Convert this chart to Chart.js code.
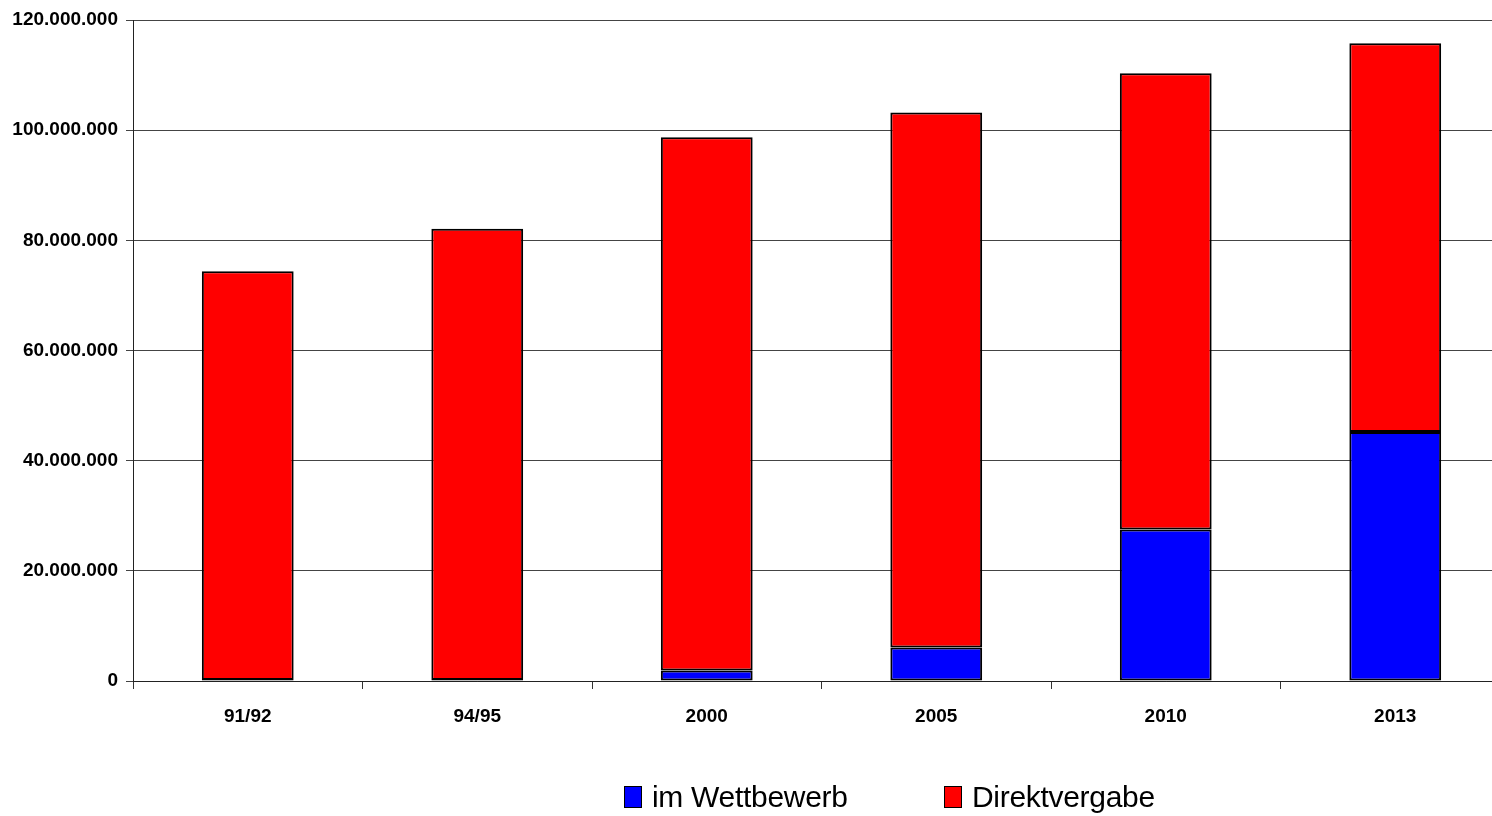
<!DOCTYPE html>
<html lang="de">
<head>
<meta charset="utf-8">
<title>Vergabeart</title>
<script src="https://cdn.jsdelivr.net/npm/chart.js@4/dist/chart.umd.min.js"></script>
<style>
  html, body { margin: 0; padding: 0; background: #fff; overflow: hidden; width: 1492px; height: 816px; }
  #wrap { position: relative; width: 1492px; height: 816px; overflow: hidden; }
  #chart { position: absolute; left: 0; top: 0; }
  .lg-item { position: absolute; top: 780px; height: 34px; display: flex; align-items: center;
             font-family: 'Liberation Sans', Arial, sans-serif; font-size: 30px; color: #000; letter-spacing: -0.3px; }
  .lg-box { width: 16px; height: 20px; border: 1px solid #000; margin-right: 10px; }
</style>
</head>
<body>
<div id="wrap">
  <canvas id="chart" width="1510" height="816"></canvas>
  <div id="legend"></div>
</div>
<script>
// Zeiträume
const categories = ['91/92', '94/95', '2000', '2005', '2010', '2013'];
// Leistungen im Wettbewerb vergeben
const wettbewerb = [200000, 200000, 1900000, 6100000, 27500000, 45200000];
// Leistungen direkt vergeben
const direktvergabe = [74200000, 81900000, 96800000, 97100000, 82850000, 70600000];
// Achsenbeschriftung
const yTicks = [0, 20000000, 40000000, 60000000, 80000000, 100000000, 120000000];

const seriesNames = ['im Wettbewerb', 'Direktvergabe'];
const seriesColors = ['#0000FF', '#FF0000'];

const fmt = v => Math.round(v).toString().replace(/\B(?=(\d{3})+(?!\d))/g, '.');

const ctx = document.getElementById('chart').getContext('2d');
new Chart(ctx, {
  type: 'bar',
  data: {
    labels: categories,
    datasets: [
      { label: seriesNames[0], data: wettbewerb, backgroundColor: seriesColors[0],
        borderColor: '#000', borderWidth: 2, borderSkipped: false, barPercentage: 0.4, categoryPercentage: 1.0 },
      { label: seriesNames[1], data: direktvergabe, backgroundColor: seriesColors[1],
        borderColor: '#000', borderWidth: 2, borderSkipped: false, barPercentage: 0.4, categoryPercentage: 1.0 }
    ]
  },
  options: {
    responsive: false,
    animation: false,
    layout: { padding: { top: 20, left: 0, right: 0, bottom: 0 } },
    plugins: { legend: { display: false }, tooltip: { enabled: false } },
    scales: {
      x: {
        stacked: true,
        offset: true,
        grid: { display: true, drawOnChartArea: false, drawTicks: true, tickLength: 8, color: '#333', offset: true },
        border: { display: true, color: '#222', width: 1 },
        ticks: { color: '#000', padding: 16, font: { family: "'Liberation Sans', Arial, sans-serif", size: 19, weight: 'bold' } },
        afterFit(scale) { scale.height = 135; }
      },
      y: {
        stacked: true,
        min: 0,
        max: 120000000,
        afterBuildTicks(scale) { scale.ticks = yTicks.map(v => ({ value: v })); },
        grid: { color: '#444', lineWidth: 1, drawTicks: true, tickLength: 7 },
        border: { display: true, color: '#222', width: 1 },
        ticks: { color: '#000', padding: 8, callback: v => fmt(v),
                 font: { family: "'Liberation Sans', Arial, sans-serif", size: 19, weight: 'bold' } },
        afterFit(scale) { scale.width = 133; }
      }
    }
  }
});

// Legende
const legend = document.getElementById('legend');
const legendPos = [624, 944];
seriesNames.forEach((name, i) => {
  const item = document.createElement('div');
  item.className = 'lg-item';
  item.style.left = legendPos[i] + 'px';
  const box = document.createElement('span');
  box.className = 'lg-box';
  box.style.background = seriesColors[i];
  const txt = document.createElement('span');
  txt.textContent = name;
  item.appendChild(box);
  item.appendChild(txt);
  legend.appendChild(item);
});
</script>
</body>
</html>
